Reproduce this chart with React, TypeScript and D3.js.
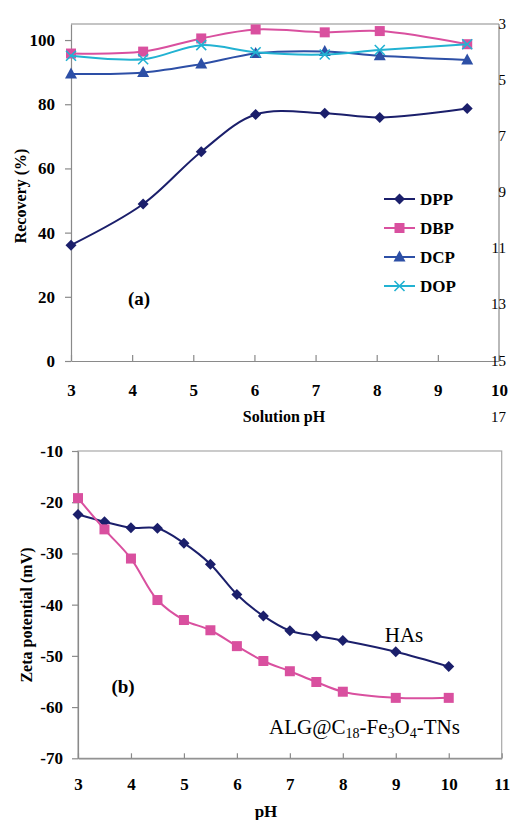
import { useRef, useEffect } from 'react';
import * as d3 from 'd3';

// panel (a): recovery vs solution pH
const phA = [3.0, 4.18, 5.13, 6.02, 7.15, 8.05, 9.48];
const dpp = [36.1, 48.9, 65.2, 76.8, 77.2, 75.9, 78.7];
const dbp = [95.8, 96.4, 100.5, 103.3, 102.4, 102.8, 98.7];
const dcp = [89.4, 89.9, 92.5, 95.8, 96.4, 95.1, 93.8];
const dop = [95.1, 94.0, 98.4, 96.2, 95.5, 96.9, 98.7];
const seriesNamesA = ['DPP', 'DBP', 'DCP', 'DOP'];
const xTicksA = [3, 4, 5, 6, 7, 8, 9, 10];
const yTicksA = [0, 20, 40, 60, 80, 100];
const rightTicksA = [3, 5, 7, 9, 11, 13, 15, 17];

// panel (b): zeta potential vs pH
const phB = [3, 3.5, 4, 4.5, 5, 5.5, 6, 6.5, 7, 7.5, 8, 9, 10];
const has = [-22.4, -23.8, -25, -25.1, -28, -32.1, -38, -42.2, -45.1, -46.1, -47, -49.2, -52.1];
const alg = [-19.2, -25.3, -31, -39.1, -43, -45, -48.1, -51, -53, -55.1, -57, -58.2, -58.2];
const xTicksB = [3, 4, 5, 6, 7, 8, 9, 10, 11];
const yTicksB = [-10, -20, -30, -40, -50, -60, -70];

const FONT = "'Liberation Serif', 'Times New Roman', Times, serif";
const AXIS = '#8a8a8a';
const plain = (d) => String(d); // hyphen minus, no decimals

function drawMarker(g, type, x, y, color) {
  if (type === 'diamond') {
    const s = 5.5;
    g.append('path')
      .attr('d', `M${x},${y - s}L${x + s},${y}L${x},${y + s}L${x - s},${y}Z`)
      .attr('fill', color);
  } else if (type === 'square') {
    g.append('rect')
      .attr('x', x - 5)
      .attr('y', y - 5)
      .attr('width', 10)
      .attr('height', 10)
      .attr('fill', color);
  } else if (type === 'triangle') {
    g.append('path')
      .attr('d', `M${x},${y - 6.5}L${x + 6},${y + 4.5}L${x - 6},${y + 4.5}Z`)
      .attr('fill', color);
  } else {
    const s = 5;
    g.append('path')
      .attr('d', `M${x - s},${y - s}L${x + s},${y + s}M${x - s},${y + s}L${x + s},${y - s}`)
      .attr('stroke', color)
      .attr('stroke-width', 1.6)
      .attr('fill', 'none');
  }
}

function styleAxis(ax) {
  ax.attr('font-family', FONT);
  ax.select('.domain').attr('stroke', AXIS).attr('stroke-width', 1.2);
  ax.selectAll('line').attr('stroke', AXIS).attr('stroke-width', 1.2);
  ax.selectAll('text')
    .attr('fill', 'black')
    .attr('font-family', FONT)
    .attr('font-size', 17)
    .attr('font-weight', 'bold');
}

function App() {
  const svgRef = useRef(null);
  const width = 512;
  const height = 820;

  useEffect(() => {
    const svg = d3.select(svgRef.current);
    svg.selectAll('*').remove();

    // ---------- panel (a) ----------
    const ma = { left: 71, right: 499, top: 24, bottom: 361 };
    const xA = d3.scaleLinear().domain([3, 10]).range([ma.left, ma.right]);
    const yA = d3.scaleLinear().domain([0, 105]).range([ma.bottom, ma.top]);
    const yR = d3.scaleLinear().domain([3, 15]).range([ma.top, ma.bottom]);

    const ga = svg.append('g').attr('font-family', FONT);

    // frame lines
    ga.append('line')
      .attr('x1', ma.left).attr('x2', ma.right)
      .attr('y1', ma.top).attr('y2', ma.top)
      .attr('stroke', AXIS).attr('stroke-width', 1.2);
    ga.append('line')
      .attr('x1', ma.right).attr('x2', ma.right)
      .attr('y1', ma.top).attr('y2', ma.bottom)
      .attr('stroke', AXIS).attr('stroke-width', 1.2);

    styleAxis(
      ga.append('g')
        .attr('transform', `translate(${ma.left},0)`)
        .call(d3.axisLeft(yA).tickValues(yTicksA).tickFormat(plain).tickSize(6).tickSizeOuter(0).tickPadding(10))
    );
    styleAxis(
      ga.append('g')
        .attr('transform', `translate(0,${ma.bottom})`)
        .call(d3.axisBottom(xA).tickValues(xTicksA).tickFormat(plain).tickSize(-6).tickSizeOuter(0).tickPadding(23))
    );

    // odd secondary scale on the right
    ga.selectAll('.rlab')
      .data(rightTicksA)
      .join('text')
      .attr('class', 'rlab')
      .attr('x', 506)
      .attr('y', (d) => yR(d))
      .attr('dy', '0.3em')
      .attr('text-anchor', 'end')
      .attr('font-size', 15)
      .text((d) => d);

    const lineA = d3.line().curve(d3.curveCatmullRom.alpha(0.5));
    const seriesA = [
      { vals: dpp, color: '#1b1f6b', type: 'diamond' },
      { vals: dbp, color: '#d9509f', type: 'square' },
      { vals: dcp, color: '#2d4fa6', type: 'triangle' },
      { vals: dop, color: '#22b2d2', type: 'x' },
    ];
    seriesA.forEach((s) => {
      const pts = phA.map((p, i) => [xA(p), yA(s.vals[i])]);
      ga.append('path')
        .attr('d', lineA(pts))
        .attr('fill', 'none')
        .attr('stroke', s.color)
        .attr('stroke-width', 2);
      pts.forEach(([x, y]) => drawMarker(ga, s.type, x, y, s.color));
    });

    // legend
    seriesA.forEach((s, i) => {
      const ly = 199 + i * 29;
      ga.append('line')
        .attr('x1', 384).attr('x2', 415)
        .attr('y1', ly).attr('y2', ly)
        .attr('stroke', s.color).attr('stroke-width', 2);
      drawMarker(ga, s.type, 399.5, ly, s.color);
      ga.append('text')
        .attr('x', 420)
        .attr('y', ly)
        .attr('dy', '0.35em')
        .attr('font-size', 17)
        .attr('font-weight', 'bold')
        .text(seriesNamesA[i]);
    });

    ga.append('text')
      .attr('x', 139).attr('y', 305)
      .attr('text-anchor', 'middle')
      .attr('font-size', 19).attr('font-weight', 'bold')
      .text('(a)');

    ga.append('text')
      .attr('transform', 'rotate(-90)')
      .attr('x', -196).attr('y', 26)
      .attr('text-anchor', 'middle')
      .attr('font-size', 16).attr('font-weight', 'bold')
      .text('Recovery (%)');

    ga.append('text')
      .attr('x', 284).attr('y', 422)
      .attr('text-anchor', 'middle')
      .attr('font-size', 16).attr('font-weight', 'bold')
      .text('Solution pH');

    // ---------- panel (b) ----------
    const mb = { left: 78, right: 501.7, top: 451, bottom: 758.3 };
    const xB = d3.scaleLinear().domain([3, 11]).range([mb.left, mb.right]);
    const yB = d3.scaleLinear().domain([-70, -10]).range([mb.bottom, mb.top]);

    const gb = svg.append('g').attr('font-family', FONT);
    gb.append('rect')
      .attr('x', mb.left).attr('y', mb.top)
      .attr('width', mb.right - mb.left).attr('height', mb.bottom - mb.top)
      .attr('fill', 'none').attr('stroke', '#a8a8a8').attr('stroke-width', 1.2);

    styleAxis(
      gb.append('g')
        .attr('transform', `translate(${mb.left},0)`)
        .call(d3.axisLeft(yB).tickValues(yTicksB).tickFormat(plain).tickSize(6).tickSizeOuter(0).tickPadding(9))
    );
    styleAxis(
      gb.append('g')
        .attr('transform', `translate(0,${mb.bottom})`)
        .call(d3.axisBottom(xB).tickValues(xTicksB).tickFormat(plain).tickSize(-5).tickSizeOuter(0).tickPadding(20))
    );

    const lineB = d3.line().curve(d3.curveCatmullRom.alpha(0.5));
    const seriesB = [
      { vals: has, color: '#1b1f6b', type: 'diamond' },
      { vals: alg, color: '#d9509f', type: 'square' },
    ];
    seriesB.forEach((s) => {
      const pts = phB.map((p, i) => [xB(p), yB(s.vals[i])]);
      gb.append('path')
        .attr('d', lineB(pts))
        .attr('fill', 'none')
        .attr('stroke', s.color)
        .attr('stroke-width', 2);
      pts.forEach(([x, y]) => drawMarker(gb, s.type, x, y, s.color));
    });

    gb.append('text')
      .attr('x', 404).attr('y', 642)
      .attr('text-anchor', 'middle')
      .attr('font-size', 21)
      .text('HAs');

    const alab = gb.append('text')
      .attr('x', 269).attr('y', 734)
      .attr('font-size', 21);
    const parts = [
      ['ALG@C', false], ['18', true], ['-Fe', false], ['3', true],
      ['O', false], ['4', true], ['-TNs', false],
    ];
    let shifted = false;
    parts.forEach(([t, sub]) => {
      const dy = sub ? 4 : shifted ? -4 : 0;
      alab.append('tspan')
        .attr('dy', dy)
        .attr('font-size', sub ? 14 : 21)
        .text(t);
      shifted = sub;
    });

    gb.append('text')
      .attr('x', 123).attr('y', 693)
      .attr('text-anchor', 'middle')
      .attr('font-size', 19).attr('font-weight', 'bold')
      .text('(b)');

    gb.append('text')
      .attr('transform', 'rotate(-90)')
      .attr('x', -615).attr('y', 32)
      .attr('text-anchor', 'middle')
      .attr('font-size', 16).attr('font-weight', 'bold')
      .text('Zeta potential (mV)');

    gb.append('text')
      .attr('x', 266).attr('y', 817)
      .attr('text-anchor', 'middle')
      .attr('font-size', 17).attr('font-weight', 'bold')
      .text('pH');
  }, []);

  return (
    <svg
      ref={svgRef}
      width={width}
      height={height}
      style={{ position: 'absolute', left: 0, top: 0, background: 'white' }}
    ></svg>
  );
}

export default App;
